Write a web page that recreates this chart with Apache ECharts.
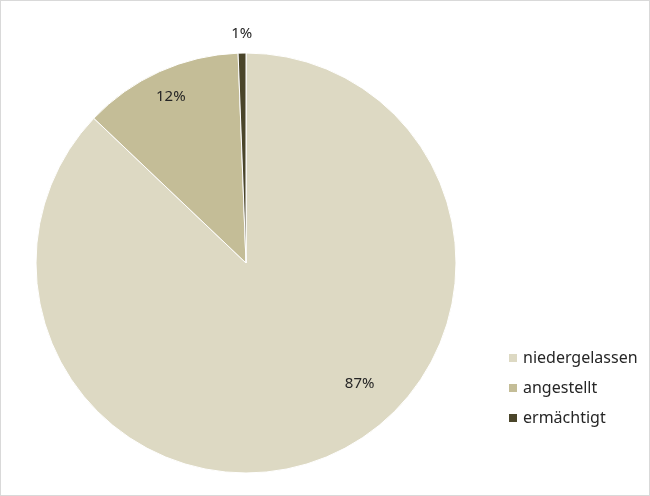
<!DOCTYPE html>
<html>
<head>
<meta charset="utf-8">
<script src="https://cdn.jsdelivr.net/npm/echarts@6/dist/echarts.min.js"></script>
<style>
  html, body { margin: 0; padding: 0; background: #fff; }
  #chart { width: 648px; height: 494px; border: 1px solid #d9d9d9; }
</style>
</head>
<body>
<div id="chart"></div>
<script>
var categories = ["niedergelassen", "angestellt", "ermächtigt"];
var shares = [87.1, 12.3, 0.6];
var colors = ["#ddd9c3", "#c4bd97", "#4a452a"];

// where the labels sit (fraction of radius) and how far they are turned from the slice middle
var labelRadius = [0.79, 0.87, 1.09];
var labelTurn = [-20, 0, 0];

var myChart = echarts.init(document.getElementById("chart"));
var cx = 245, cy = 262, R = 210;

var total = shares.reduce(function (a, b) { return a + b; }, 0);
function midAngle(i) {
  var start = 0;
  for (var k = 0; k < i; k++) start += shares[k];
  return (start + shares[i] / 2) / total * 360;
}

var option = {
  animation: false,
  color: colors,
  legend: {
    orient: "vertical",
    left: 506,
    top: 349,
    padding: 0,
    itemWidth: 10,
    itemHeight: 10,
    itemGap: 14,
    icon: "rect",
    data: categories,
    textStyle: {
      color: "#262626",
      fontFamily: "Noto Sans",
      fontSize: 16,
      lineHeight: 16,
      padding: [0, 0, 0, 0]
    }
  },
  series: [
    {
      type: "pie",
      center: [cx, cy],
      radius: R,
      startAngle: 90,
      clockwise: true,
      itemStyle: { borderColor: "#fff", borderWidth: 1 },
      label: {
        show: true,
        position: "inside",
        color: "#262626",
        fontFamily: "Noto Sans",
        fontSize: 15,
        formatter: function (p) { return Math.round(p.value) + "%"; }
      },
      labelLine: { show: false },
      labelLayout: function (p) {
        var i = p.dataIndex;
        var a = (midAngle(i) + labelTurn[i]) * Math.PI / 180;
        var r = R * labelRadius[i];
        return {
          x: cx + r * Math.sin(a),
          y: cy - r * Math.cos(a),
          align: "center",
          verticalAlign: "middle"
        };
      },
      data: categories.map(function (c, i) {
        return { name: c, value: shares[i] };
      })
    }
  ]
};
myChart.setOption(option);
</script>
</body>
</html>
